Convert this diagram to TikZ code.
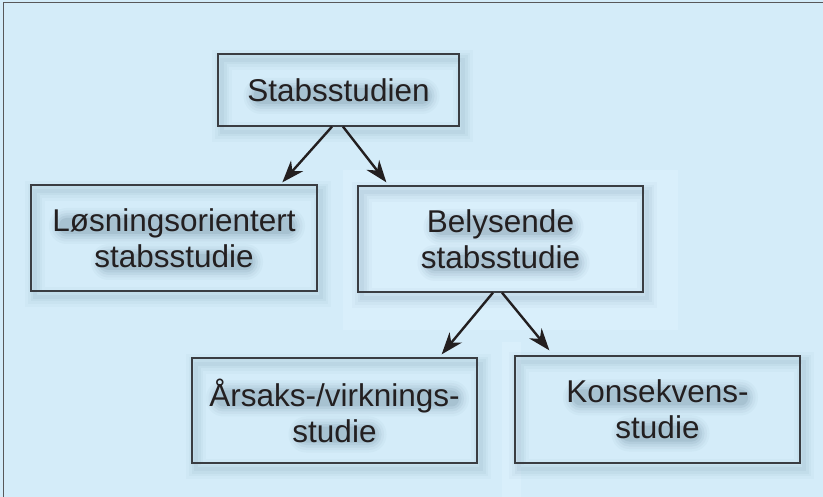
\documentclass[tikz,border=0pt]{standalone}
\usepackage{fontspec}
\setmainfont{Liberation Sans}
\usetikzlibrary{arrows.meta}

\definecolor{bg}{HTML}{D4ECF9}
\definecolor{bglight}{HTML}{D9EFFB}
\definecolor{frameline}{HTML}{58585A}
\definecolor{boxline}{HTML}{3A3D42}
\definecolor{ink}{HTML}{231F20}
\definecolor{haze}{HTML}{4F6F86}

\tikzset{
  lbl/.style={font=\fontsize{31.5}{36}\selectfont, align=center, inner sep=0pt},
  studyframe/.style={lbl, draw=boxline, line width=1.3pt, text=ink},
  link/.style={draw=ink, line width=2.4pt,
    -{Stealth[length=22pt,width=16pt,inset=7pt]}},
}

% soft shadow under the outline of a box: #1 x, #2 y, #3 width, #4 height
\newcommand\frameshade[4]{%
  \foreach \lw/\op in {20/0.03,14/0.04,9/0.05,4/0.06}
    \draw[haze, line width=\lw pt, opacity=\op]
      ({#1-#3/2+4},{#2-#4/2+6}) rectangle ({#1+#3/2+4},{#2+#4/2+6});
}
% soft shadow under one line of text: #1 x, #2 y, #3 width, #4 height
\newcommand\lineshade[4]{%
  \foreach \g/\op in {0/0.12,2.5/0.09,5/0.07,7.5/0.05,10/0.04}
    \fill[haze, opacity=\op, rounded corners={#4/2+\g-0.5}]
      ({#1-#3/2-\g},{#2-#4/2-\g}) rectangle ({#1+#3/2+\g},{#2+#4/2+\g});
}

\begin{document}
\begin{tikzpicture}[x=1pt,y=-1pt]
  \useasboundingbox (0,0) rectangle (823,497);
  \fill[bg] (0,0) rectangle (823,497);
  % lighter panels behind the lower part of the tree
  \fill[bglight] (343,170) rectangle (678,330);
  \fill[bglight] (502,342) rectangle (521,497);
  % outer frame (left and top edges)
  \draw[frameline, line width=1.4pt] (3.5,497) -- (3.5,2.5) -- (823,2.5);

  % shadows of the boxes and of their text lines
  \frameshade{338.5}{90}{241}{72}
  \frameshade{174}{238}{286}{106}
  \frameshade{500.5}{239}{285}{106}
  \frameshade{334.5}{410.5}{285}{105}
  \frameshade{657.5}{409.5}{285}{107}
  \lineshade{341.5}{96}{176}{16}
  \lineshade{177}{226}{236}{16}
  \lineshade{177}{262}{152}{16}
  \lineshade{503.5}{227}{140}{16}
  \lineshade{503.5}{263}{152}{16}
  \lineshade{337.5}{398.5}{243}{16}
  \lineshade{337.5}{434.5}{78}{16}
  \lineshade{660.5}{397.5}{175}{16}
  \lineshade{660.5}{433.5}{78}{16}

  \node[studyframe, minimum width=241pt, minimum height=72pt] (S) at (338.5,90) {Stabsstudien};
  \node[studyframe, minimum width=286pt, minimum height=106pt] (L) at (174,238) {Løsningsorientert\\stabsstudie};
  \node[studyframe, minimum width=285pt, minimum height=106pt] (B) at (500.5,239) {Belysende\\stabsstudie};
  \node[studyframe, minimum width=285pt, minimum height=105pt] (A) at (334.5,410.5) {Årsaks-/virknings-\\studie};
  \node[studyframe, minimum width=285pt, minimum height=107pt] (K) at (657.5,409.5) {Konsekvens-\\studie};

  \draw[link] ([xshift=-6.5pt]S.south) -- ([xshift=252pt,yshift=2pt]L.north west);
  \draw[link] ([xshift=4.5pt]S.south) -- ([xshift=29pt,yshift=3pt]B.north west);
  \draw[link] ([xshift=-7.5pt]B.south) -- ([xshift=-36pt,yshift=3pt]A.north east);
  \draw[link] ([xshift=1.5pt]B.south) -- ([xshift=35pt,yshift=5pt]K.north west);
\end{tikzpicture}
\end{document}
